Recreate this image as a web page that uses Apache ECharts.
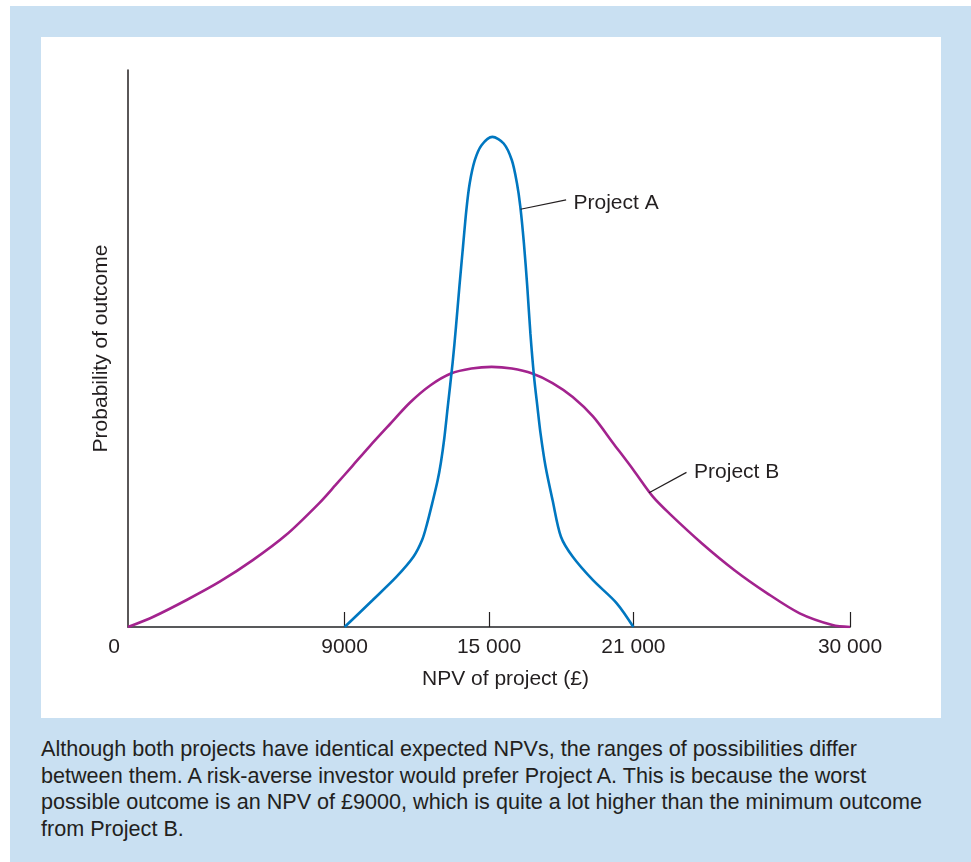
<!DOCTYPE html>
<html><head><meta charset="utf-8">
<script src="https://cdn.jsdelivr.net/npm/echarts@6/dist/echarts.min.js"></script>
<style>
html,body{margin:0;padding:0;background:#fff;}
#outer{position:absolute;left:10px;top:6px;width:961px;height:856px;background:#c9e0f2;}
#panel{position:absolute;left:41px;top:37px;width:900px;height:681px;background:#fff;}
#chart{position:absolute;left:0;top:0;width:971px;height:862px;}
#caption{position:absolute;left:41px;top:736px;width:925px;font-family:"Liberation Sans",Arial,sans-serif;font-size:21.6px;line-height:26.7px;color:#231f20;white-space:nowrap;}
</style></head>
<body>
<div id="outer"></div><div id="panel"></div>
<div id="caption"></div>
<div id="chart"></div>
<script>
// ---- data ----
const npvTicks = [0, 9000, 15000, 21000, 30000];
const npvTickLabels = ['0', '9000', '15 000', '21 000', '30 000'];
const xAxisTitle = 'NPV of project (£)';
const yAxisTitle = 'Probability of outcome';

const projectA_npv  = [9000, 10170, 11160, 11860, 12220, 12430, 12640, 12860, 13000, 13140, 13280, 13490, 13630, 13770, 13920, 14060, 14200, 14410, 14690, 15140, 15610, 15950, 16160, 16300, 16450, 16590, 16720, 16870, 17010, 17140, 17350, 17640, 17990, 18480, 19320, 20300, 21000];
const projectA_prob = [0, 4.85, 9.03, 12.6, 15.6, 18.6, 22.2, 26.2, 29.5, 33.8, 39.3, 47.5, 54.0, 61.1, 68.3, 74.9, 79.7, 83.8, 86.5, 88.0, 86.8, 83.8, 79.7, 75.5, 68.9, 61.1, 52.7, 45.0, 39.6, 34.8, 28.8, 22.8, 16.2, 12.6, 8.4, 4.3, 0];

const projectB_npv  = [0, 1057, 2436, 3810, 5185, 6564, 7938, 8628, 9320, 10030, 10880, 11720, 12570, 13420, 14270, 15110, 15950, 16800, 17640, 18480, 19320, 20160, 21000, 21810, 22490, 23850, 25200, 26560, 27910, 29270, 30000];
const projectB_prob = [0, 1.85, 4.85, 8.13, 12.0, 16.5, 22.2, 25.5, 28.9, 32.4, 36.4, 40.3, 43.4, 45.5, 46.4, 46.7, 46.4, 45.5, 43.8, 41.3, 37.8, 33.0, 28.2, 23.4, 20.4, 15.0, 10.2, 6.05, 2.46, 0.36, 0];

const seriesNames = ['Project A', 'Project B'];
// anchor points on the curves where the leader lines start [npv, prob]
const labelAnchors = [[16310, 75.0], [21651, 24.1]];

const captionLines = [
  'Although both projects have identical expected NPVs, the ranges of possibilities differ',
  'between them. A risk-averse investor would prefer Project A. This is because the worst',
  'possible outcome is an NPV of £9000, which is quite a lot higher than the minimum outcome',
  'from Project B.'
];

// ---- render ----
document.getElementById('caption').innerHTML = captionLines.join('<br>');
const FONT = '"Liberation Sans", Arial, Helvetica, sans-serif';
const TXT = '#231f20';
const zip = (a, b) => a.map((v, i) => [v, b[i]]);

const chart = echarts.init(document.getElementById('chart'), null, {renderer: 'canvas'});
const option = {
  animation: false,
  grid: {left: 128, right: 121, top: 70, bottom: 235, containLabel: false},
  xAxis: {
    type: 'value', min: 0, max: 30000,
    axisLine: {show: true, onZero: false, lineStyle: {color: '#58595b', width: 2}},
    axisTick: {show: true, inside: true, length: 15, customValues: npvTicks.slice(1), lineStyle: {color: TXT, width: 1.2}},
    axisLabel: {
      customValues: npvTicks, margin: 10, fontSize: 21, color: TXT, fontFamily: FONT,
      formatter: v => { const i = npvTicks.indexOf(v); const t = npvTickLabels[i]; return v === 0 ? '{z|' + t + '}' : t; },
      rich: {z: {fontSize: 21, color: TXT, fontFamily: FONT, padding: [0, 28, 0, 0]}}
    },
    splitLine: {show: false},
    name: xAxisTitle, nameLocation: 'middle', nameGap: 42,
    nameTextStyle: {fontSize: 21, color: TXT, fontFamily: FONT, padding: [0, 0, 0, 33]}
  },
  yAxis: {
    type: 'value', min: 0, max: 100,
    axisLine: {show: true, lineStyle: {color: TXT, width: 1.5}},
    axisTick: {show: false}, axisLabel: {show: false}, splitLine: {show: false},
    name: yAxisTitle, nameLocation: 'middle', nameGap: 16,
    nameTextStyle: {fontSize: 21, color: TXT, fontFamily: FONT}
  },
  series: [
    {name: seriesNames[1], type: 'line', data: zip(projectB_npv, projectB_prob), smooth: 0.3, symbol: 'none',
     lineStyle: {color: '#a3238e', width: 2.6}, z: 2},
    {name: seriesNames[0], type: 'line', data: zip(projectA_npv, projectA_prob), smooth: 0.3, symbol: 'none',
     lineStyle: {color: '#0077c0', width: 2.6}, z: 3}
  ]
};
chart.setOption(option);

// leader lines + labels
const offs = [{dx: 45.6, dy: -9.3, tdx: 53, tdy: -6.5}, {dx: 37.4, dy: -20.4, tdx: 45, tdy: -20.5}];
const g = [];
labelAnchors.forEach((a, i) => {
  const p = chart.convertToPixel({gridIndex: 0}, a);
  const o = offs[i];
  g.push({type: 'line', shape: {x1: p[0], y1: p[1], x2: p[0] + o.dx, y2: p[1] + o.dy}, style: {stroke: TXT, lineWidth: 1.2}, z: 10});
  g.push({type: 'text', x: p[0] + o.tdx, y: p[1] + o.tdy, style: {text: seriesNames[i], fontSize: 21, fontFamily: FONT, fill: TXT, verticalAlign: 'middle', align: 'left'}, z: 10});
});
chart.setOption({graphic: {elements: g}});
</script>
</body></html>
